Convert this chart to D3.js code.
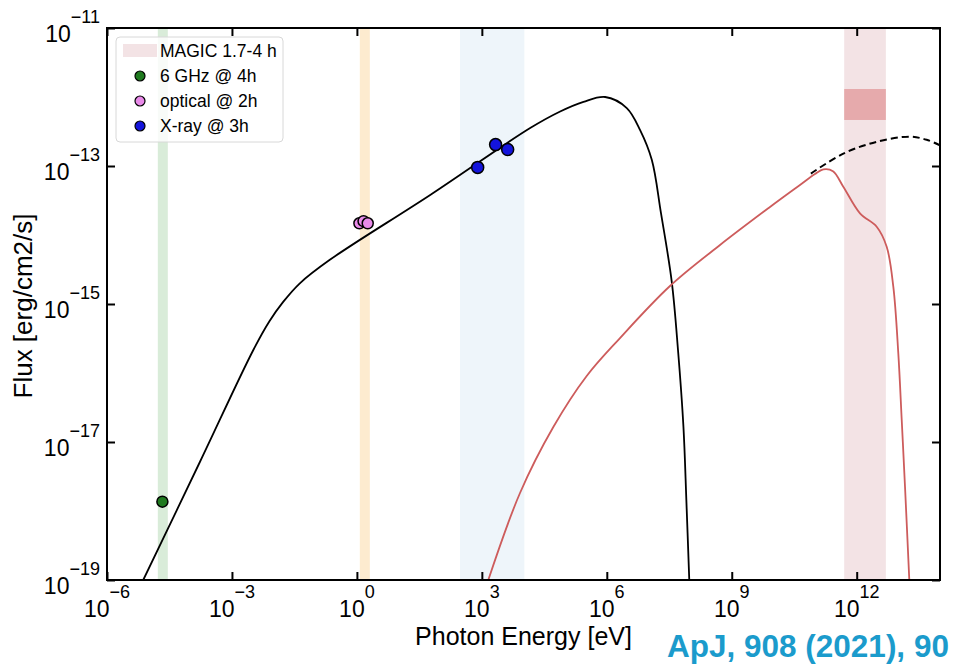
<!DOCTYPE html>
<html>
<head>
<meta charset="utf-8">
<title>SED</title>
<script src="https://cdn.jsdelivr.net/npm/d3@7"></script>
<style>
    body { margin: 0; background: #fff; }
    text { font-family: "Liberation Sans", Arial, sans-serif; }
</style>
</head>
<body>
<script>

    // synchrotron model (log10 E [eV], log10 flux)
    var syncLogE = [-5.13, -3.77, -2.49, -2.10, -1.77, -1.37, -0.65, 1.76, 4.16, 4.88, 5.44, 5.96, 6.48, 6.80, 7.08, 7.30, 7.56, 7.71, 7.84, 7.91, 7.98];
    var syncLogF = [-19.0, -17.29, -15.67, -15.25, -14.97, -14.70, -14.36, -13.42, -12.45, -12.21, -12.07, -12.00, -12.16, -12.48, -12.91, -13.68, -14.68, -15.67, -16.78, -17.84, -19.0];

    // inverse compton, EBL absorbed
    var icLogE = [3.155, 3.916, 4.716, 5.517, 6.317, 7.517, 8.718, 9.918, 10.638, 10.999, 11.20, 11.43, 11.678, 12.079, 12.480, 12.720, 12.879, 12.999, 13.081, 13.160, 13.263];
    var icLogF = [-19.0, -17.739, -16.783, -16.043, -15.493, -14.739, -14.145, -13.594, -13.275, -13.116, -13.050, -13.075, -13.300, -13.686, -13.880, -14.170, -14.749, -15.715, -16.681, -17.648, -19.0];

    // intrinsic (dashed)
    var icIntLogE = [10.90, 11.68, 12.48, 13.28, 13.68, 14.0];
    var icIntLogF = [-13.11, -12.82, -12.65, -12.575, -12.62, -12.70];

    // observations
    var radioLogE = [-4.67], radioLogF = [-17.865];
    var optLogE = [0.06, 0.16, 0.26], optLogF = [-13.83, -13.80, -13.83];
    var xrayLogE = [2.90, 3.33, 3.62], xrayLogF = [-13.02, -12.69, -12.76];

    // shaded energy ranges
    var bandNames = ["radio", "optical", "xray", "magic"];
    var bandLo = [-4.78, 0.07, 2.475, 11.70];
    var bandHi = [-4.54, 0.31, 4.02, 12.70];
    var bandColors = ["#d9ecd9", "#fdebcf", "#eef5fa", "#f3e3e5"];
    var magicFluxLo = -12.333, magicFluxHi = -11.884;

    var xTickExp = [-6, -3, 0, 3, 6, 9, 12];
    var yTickExp = [-11, -13, -15, -17, -19];

    var legendLabels = ["MAGIC 1.7-4 h", "6 GHz @ 4h", "optical @ 2h", "X-ray @ 3h"];

    var W = 955, H = 664,
        m = {left: 107, right: 940, top: 28, bottom: 580};

    var p = function (v) { return Math.pow(10, v); };

    var x = d3.scaleLog().domain([1e-6, 1e14]).range([m.left, m.right]);
    var y = d3.scaleLog().domain([1e-19, 1e-11]).range([m.bottom, m.top]);

    var svg = d3.select("body").append("svg")
        .attr("width", W).attr("height", H);

    svg.append("defs").append("clipPath").attr("id", "plot-clip")
        .append("rect")
        .attr("x", m.left).attr("y", m.top)
        .attr("width", m.right - m.left).attr("height", m.bottom - m.top);

    var plot = svg.append("g").attr("clip-path", "url(#plot-clip)");

    // bands
    plot.selectAll("rect.band").data(bandNames).enter()
        .append("rect").attr("class", "band")
        .attr("x", function (d, i) { return x(p(bandLo[i])); })
        .attr("width", function (d, i) { return x(p(bandHi[i])) - x(p(bandLo[i])); })
        .attr("y", m.top).attr("height", m.bottom - m.top)
        .attr("fill", function (d, i) { return bandColors[i]; });

    // MAGIC flux box
    plot.append("rect")
        .attr("x", x(p(bandLo[3])))
        .attr("width", x(p(bandHi[3])) - x(p(bandLo[3])))
        .attr("y", y(p(magicFluxHi)))
        .attr("height", y(p(magicFluxLo)) - y(p(magicFluxHi)))
        .attr("fill", "#e6aaac");

    function pts(le, lf) {
        return le.map(function (e, i) { return [x(p(e)), y(p(lf[i]))]; });
    }

    var line = d3.line().curve(d3.curveCatmullRom.alpha(0.5));

    plot.append("path").attr("d", line(pts(syncLogE, syncLogF)))
        .attr("fill", "none").attr("stroke", "#000").attr("stroke-width", 1.8);

    plot.append("path").attr("d", line(pts(icLogE, icLogF)))
        .attr("fill", "none").attr("stroke", "#cd5c5c").attr("stroke-width", 1.8);

    plot.append("path").attr("d", line(pts(icIntLogE, icIntLogF)))
        .attr("fill", "none").attr("stroke", "#000").attr("stroke-width", 2)
        .attr("stroke-dasharray", "7,4");

    function dots(le, lf, color, r) {
        plot.append("g").selectAll("circle").data(pts(le, lf)).enter()
            .append("circle")
            .attr("cx", function (d) { return d[0]; })
            .attr("cy", function (d) { return d[1]; })
            .attr("r", r)
            .attr("fill", color).attr("stroke", "#000").attr("stroke-width", 1.5);
    }
    dots(radioLogE, radioLogF, "#1f7a1f", 5.5);
    dots(optLogE, optLogF, "#e98ae9", 5.5);
    dots(xrayLogE, xrayLogF, "#1414dc", 6);

    // axes, ticks pointing inward on all four sides
    var xv = xTickExp.map(p), yv = yTickExp.map(p);
    function styleAxis(g) {
        g.select(".domain").remove();
        g.selectAll(".tick line").attr("stroke", "#000").attr("stroke-width", 2);
        g.selectAll(".tick text").remove();
    }
    svg.append("g").attr("transform", "translate(0," + m.bottom + ")")
        .call(d3.axisBottom(x).tickValues(xv).tickSize(-8)).call(styleAxis);
    svg.append("g").attr("transform", "translate(0," + m.top + ")")
        .call(d3.axisTop(x).tickValues(xv).tickSize(-8)).call(styleAxis);
    svg.append("g").attr("transform", "translate(" + m.left + ",0)")
        .call(d3.axisLeft(y).tickValues(yv).tickSize(-8)).call(styleAxis);
    svg.append("g").attr("transform", "translate(" + m.right + ",0)")
        .call(d3.axisRight(y).tickValues(yv).tickSize(-8)).call(styleAxis);

    svg.append("rect")
        .attr("x", m.left).attr("y", m.top)
        .attr("width", m.right - m.left).attr("height", m.bottom - m.top)
        .attr("fill", "none").attr("stroke", "#000").attr("stroke-width", 2);

    // tick labels 10^n
    function powLabel(sel, e) {
        sel.append("tspan").text("10");
        sel.append("tspan").attr("dy", -19).attr("font-size", 18)
            .text(e < 0 ? "\u2212" + (-e) : String(e));
    }
    svg.append("g").selectAll("text").data(xTickExp).enter()
        .append("text")
        .attr("x", function (d) { return x(p(d)); })
        .attr("y", m.bottom + 37)
        .attr("text-anchor", "middle")
        .attr("font-size", 23)
        .each(function (d) { powLabel(d3.select(this), d); });

    svg.append("g").selectAll("text").data(yTickExp).enter()
        .append("text")
        .attr("x", 100)
        .attr("y", function (d) { return y(p(d)) + 14; })
        .attr("text-anchor", "end")
        .attr("font-size", 23)
        .each(function (d) { powLabel(d3.select(this), d); });

    // axis titles
    svg.append("text")
        .attr("x", (m.left + m.right) / 2).attr("y", 645)
        .attr("text-anchor", "middle").attr("font-size", 25)
        .text("Photon Energy [eV]");

    svg.append("text")
        .attr("transform", "translate(32," + ((m.top + m.bottom) / 2 + 2) + ") rotate(-90)")
        .attr("text-anchor", "middle").attr("font-size", 26)
        .text("Flux [erg/cm2/s]");

    // legend
    var lg = svg.append("g");
    lg.append("rect")
        .attr("x", 116).attr("y", 37).attr("width", 167).attr("height", 105)
        .attr("rx", 4)
        .attr("fill", "#fff").attr("fill-opacity", 0.8)
        .attr("stroke", "#d8d8d8");
    var rowY = [50.5, 76, 101, 126];
    var markColors = [null, "#1f7a1f", "#e98ae9", "#1414dc"];
    legendLabels.forEach(function (lab, i) {
        if (i === 0) {
            lg.append("rect").attr("x", 123).attr("y", rowY[i] - 6.5)
                .attr("width", 34).attr("height", 13).attr("fill", bandColors[3]);
        } else {
            lg.append("circle").attr("cx", 140).attr("cy", rowY[i]).attr("r", 5)
                .attr("fill", markColors[i]).attr("stroke", "#000").attr("stroke-width", 1.2);
        }
        lg.append("text").attr("x", 160).attr("y", rowY[i] + 6)
            .attr("font-size", 17.5).text(lab);
    });

    // reference note
    svg.append("text")
        .attr("x", 667).attr("y", 657)
        .attr("font-size", 31.5).attr("font-weight", "bold")
        .attr("fill", "#1b9bcc")
        .text("ApJ, 908 (2021), 90");

</script>
</body>
</html>
